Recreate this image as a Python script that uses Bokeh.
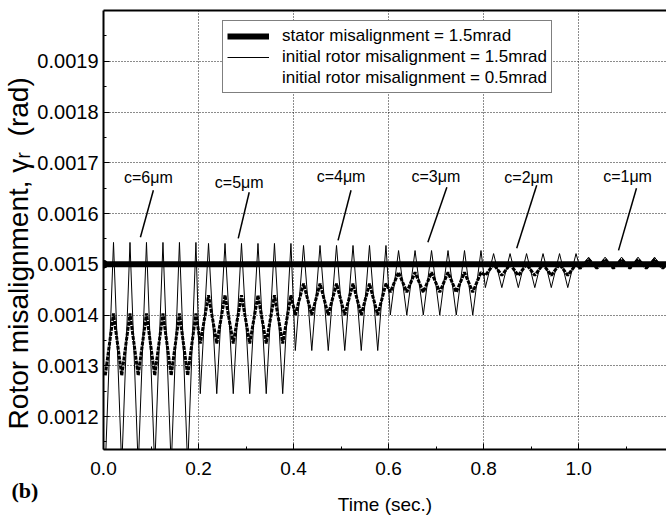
from bokeh.plotting import figure
from bokeh.models import (Range1d, FixedTicker, PrintfTickFormatter, Legend,
                          LegendItem, LinearAxis, ColumnDataSource, Title)
from bokeh.embed import file_html
from bokeh.resources import INLINE

# ---------------- data ----------------
# each 0.2 s segment uses a different clearance c
seg_start = [0.0, 0.2, 0.4, 0.6, 0.8, 1.0]
clearance_labels = ["c=6\u03bcm", "c=5\u03bcm", "c=4\u03bcm", "c=3\u03bcm", "c=2\u03bcm", "c=1\u03bcm"]

# initial rotor misalignment = 1.5 mrad (thin line): peak / trough per segment
thin_peak = [0.001543, 0.001541, 0.001537, 0.001527, 0.001521, 0.001514]
thin_trough = [0.001100, 0.001245, 0.001330, 0.001400, 0.001454, 0.001491]

# initial rotor misalignment = 0.5 mrad (dotted line): peak / trough per segment
dot_peak = [0.001403, 0.001439, 0.001462, 0.001484, 0.001500, 0.001510]
dot_trough = [0.001281, 0.001344, 0.001400, 0.001445, 0.001478, 0.001492]

osc_period = 0.0347          # s, read from peak spacing
first_extremum = 0.0037      # s after segment start (first trough)
extrema_per_segment = 12

# stator misalignment = 1.5 mrad
stator_t = [0.0, 1.2]
stator_v = [0.0015, 0.0015]

x_ticks = [0.0, 0.2, 0.4, 0.6, 0.8, 1.0, 1.2]
x_minor = [0.1, 0.3, 0.5, 0.7, 0.9, 1.1]
y_ticks = [0.0012, 0.0013, 0.0014, 0.0015, 0.0016, 0.0017, 0.0018, 0.0019]
y_minor = [0.00115, 0.00125, 0.00135, 0.00145, 0.00155, 0.00165, 0.00175, 0.00185, 0.00195]

legend_labels = ["stator misalignment = 1.5mrad",
                 "initial rotor misalignment = 1.5mrad",
                 "initial rotor misalignment = 0.5mrad"]

# annotation layout (data units)
ann_x = [0.0945, 0.2857, 0.500, 0.6996, 0.895, 1.103]
ann_y = [0.001670, 0.001662, 0.001672, 0.001672, 0.001670, 0.001672]
lead_x0 = [0.105, 0.3067, 0.521, 0.7227, 0.9118, 1.1218]
lead_y0 = [0.0016458, 0.0016418, 0.0016458, 0.0016517, 0.0016556, 0.0016497]
lead_x1 = [0.0777, 0.2836, 0.4937, 0.6828, 0.8697, 1.084]
lead_y1 = [0.0015531, 0.0015511, 0.0015471, 0.0015432, 0.0015314, 0.0015274]

# ---------------- build zig-zag traces through the read extrema ----------------
half = osc_period / 2.0
thin_t, thin_v, dot_t, dot_v = [], [], [], []
for i, s in enumerate(seg_start):
    for k in range(extrema_per_segment):
        t = s + first_extremum + k * half
        thin_t.append(t)
        dot_t.append(t)
        thin_v.append(thin_trough[i] if k % 2 == 0 else thin_peak[i])
        dot_v.append(dot_trough[i] if k % 2 == 0 else dot_peak[i])

FONT = "Liberation Sans"

p = figure(width=666, height=517, x_range=Range1d(0, 1.185),
           y_range=Range1d(0.001135, 0.0020),
           output_backend="svg", toolbar_location=None,
           min_border_left=102, min_border_right=0,
           min_border_top=10, min_border_bottom=68)
p.outline_line_color = None
p.background_fill_color = "white"
p.border_fill_color = "white"

# grid
p.xgrid.ticker = FixedTicker(ticks=x_ticks)
p.ygrid.ticker = FixedTicker(ticks=y_ticks)
for g in (p.xgrid, p.ygrid):
    g.grid_line_color = "black"
    g.grid_line_dash = "1 2"
    g.grid_line_width = 1
    g.grid_line_alpha = 0.9

# axes
p.xaxis.ticker = FixedTicker(ticks=x_ticks, minor_ticks=x_minor)
p.xaxis.formatter = PrintfTickFormatter(format="%.1f")
p.yaxis.ticker = FixedTicker(ticks=y_ticks, minor_ticks=y_minor)
p.yaxis.formatter = PrintfTickFormatter(format="%.4f")
for ax in (p.xaxis, p.yaxis):
    ax.axis_line_color = "black"
    ax.axis_line_width = 2
    ax.major_tick_in = 6
    ax.major_tick_out = 0
    ax.minor_tick_in = 3
    ax.minor_tick_out = 0
    ax.major_tick_line_color = "black"
    ax.minor_tick_line_color = "black"
    ax.major_label_text_font = FONT
    ax.major_label_text_color = "black"
    ax.axis_label_text_font = FONT
    ax.axis_label_text_font_style = "normal"
    ax.axis_label_text_color = "black"
p.xaxis.major_label_text_font_size = "19px"
p.yaxis.major_label_text_font_size = "20px"
p.xaxis.major_label_standoff = 12
p.yaxis.major_label_standoff = 5
# trailing no-break spaces shift the label centre downwards, as in the original
p.yaxis.axis_label = "Rotor misalignment, \u03b3\u1d63\u00a0\u00a0(rad)" + "\u00a0" * 6
p.yaxis.axis_label_text_font_size = "28px"
p.yaxis.axis_label_standoff = 0

top_axis = LinearAxis(ticker=FixedTicker(ticks=[]), axis_line_width=2,
                      axis_line_color="black", major_tick_line_color=None,
                      minor_tick_line_color=None, major_label_text_color=None)
p.add_layout(top_axis, "above")


def make_title(text, standoff, **kw):
    try:
        return Title(text=text, standoff=standoff, **kw)
    except Exception:
        return Title(text=text, standoff=0, **kw)


# panel letter and x-axis title, both under the tick labels
p.add_layout(make_title("(b)", -4, align="left", offset=-92, vertical_align="bottom",
                        text_font="Liberation Serif", text_font_style="bold",
                        text_font_size="22px", text_color="black"), "below")
p.add_layout(make_title("Time (sec.)", -13, align="center", vertical_align="top",
                        text_font=FONT, text_font_style="normal",
                        text_font_size="19px", text_color="black"), "below")

# traces
r_thin = p.line(thin_t, thin_v, line_color="black", line_width=1)
r_dot = p.line(dot_t, dot_v, line_color="black", line_width=3, line_dash="4 1")
r_stator = p.line(stator_t, stator_v, line_color="black", line_width=6)
p.scatter(stator_t[:1], stator_v[:1], size=8, color="black")

# legend proxy for the 0.5 mrad curve (drawn solid in the legend)
r_proxy = p.line(x=[], y=[], line_color="black", line_width=2.6)

legend = Legend(items=[LegendItem(label=legend_labels[0], renderers=[r_stator]),
                       LegendItem(label=legend_labels[1], renderers=[r_thin]),
                       LegendItem(label=legend_labels[2], renderers=[r_proxy])],
                location=(119, 356))
legend.border_line_color = "black"
legend.border_line_width = 1
legend.background_fill_color = "white"
legend.background_fill_alpha = 1
legend.label_text_font = FONT
legend.label_text_font_size = "17px"
legend.label_text_color = "black"
legend.glyph_width = 42
legend.glyph_height = 16
legend.label_standoff = 13
legend.label_height = 21
legend.padding = 4
legend.spacing = 0
legend.margin = 0
p.add_layout(legend)

# clearance annotations
p.segment(lead_x0, lead_y0, lead_x1, lead_y1, line_color="black", line_width=1.5)
src = ColumnDataSource(dict(x=ann_x, y=ann_y, t=clearance_labels))
p.text("x", "y", text="t", source=src, text_align="center", text_baseline="middle",
       text_font_size="16px", text_color="black", text_font={"value": FONT})

open("out.html", "w").write(file_html(p, INLINE))
